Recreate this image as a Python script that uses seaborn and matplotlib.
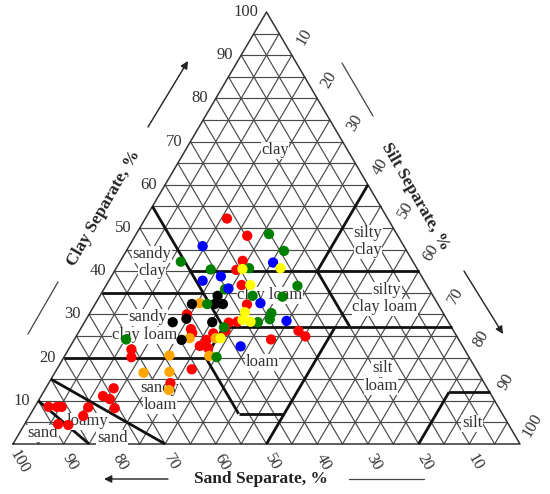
import numpy as np
import pandas as pd
import matplotlib
matplotlib.use("Agg")
import matplotlib.pyplot as plt
import seaborn as sns

# ---------------- data (sand %, clay %) per sample group ----------------
red_sand = [31.7, 29.7, 33.5, 35.8, 36.5, 37.7, 50.7, 43.4, 41.6, 45.0, 51.6, 51.8,
            47.7, 49.8, 51.8, 50.4, 30.6, 29.9, 37.0, 65.7, 66.6, 56.1, 61.9, 73.7,
            76.7, 75.7, 75.8, 80.9, 82.9, 88.7, 87.0, 86.1, 88.8, 86.9]
red_clay = [52.2, 48.2, 42.4, 40.3, 36.8, 32.3, 30.0, 28.1, 28.3, 26.2, 26.6, 25.7,
            25.6, 24.1, 22.7, 22.2, 26.2, 24.9, 24.2, 21.9, 20.1, 17.3, 14.1, 12.9,
            11.1, 10.4, 8.3, 8.5, 6.5, 8.6, 8.6, 8.6, 4.6, 4.4]

green_sand = [25.2, 24.2, 45.8, 40.8, 33.1, 25.6, 40.3, 35.6, 29.8, 45.5, 33.9, 34.9,
              37.6, 44.9, 49.8, 65.6]
green_clay = [48.6, 44.7, 42.2, 40.4, 40.7, 36.6, 35.8, 34.3, 34.1, 32.4, 30.3, 28.9,
              28.2, 27.0, 20.1, 24.2]

blue_sand = [39.7, 27.7, 39.6, 43.7, 39.5, 34.9, 31.8, 43.8]
blue_clay = [45.8, 42.0, 38.8, 37.8, 36.0, 32.6, 28.5, 22.6]

yellow_sand = [26.9, 34.5, 34.8, 39.0, 40.4, 39.0, 46.8]
yellow_clay = [40.7, 40.5, 36.8, 30.5, 28.7, 28.3, 24.5]

black_sand = [42.5, 48.5, 44.0, 42.4, 51.3, 54.4, 46.6, 54.7]
black_clay = [34.3, 32.4, 32.4, 32.4, 29.0, 28.2, 28.2, 24.1]

orange_sand = [46.9, 52.9, 47.8, 51.1, 58.9, 66.0, 60.8, 63.0]
orange_clay = [32.6, 24.5, 24.5, 20.4, 20.5, 16.5, 16.7, 12.5]

groups = ["red", "orange", "black", "green", "blue", "yellow"]
palette = {"red": "#ff0000", "orange": "#ffa500", "black": "#000000",
           "green": "#008000", "blue": "#0000ff", "yellow": "#ffff00"}

tick_values = [10, 20, 30, 40, 50, 60, 70, 80, 90, 100]

# texture class boundaries, endpoints as (sand, clay)
boundaries = [
    ((45, 40), (0, 40)), ((45, 55), (45, 27)), ((20, 40), (0, 60)),
    ((45, 27), (0, 27)), ((20, 40), (20, 27)), ((65, 35), (45, 35)),
    ((80, 20), (52, 20)), ((52, 20), (52, 7)), ((52, 7), (43, 7)),
    ((50, 0), (23, 27)), ((45, 27), (52, 20)), ((70, 0), (85, 15)),
    ((85, 0), (90, 10)), ((20, 0), (8, 12)), ((8, 12), (0, 12)),
]

# ---------------- helpers ----------------
H = np.sqrt(3) / 2


def tern(sand, clay):
    sand = np.asarray(sand, float)
    clay = np.asarray(clay, float)
    return 100 - sand - clay / 2, clay * H


SX, SY = 5.07, 4.988          # px per data unit
X0, Y0 = 13, 444               # pixel position of the 100 % sand corner


def P(px, py):
    """figure pixel (from top-left) -> data coords (layout only)"""
    return (px - X0) / SX, (Y0 - py) / SY


# ---------------- figure ----------------
sns.set_style("white")
plt.rcParams["font.family"] = ["Liberation Serif", "DejaVu Serif"]

fig = plt.figure(figsize=(5.5, 4.94), dpi=100)
ax = fig.add_axes([0, 0, 1, 1])
ax.set_xlim(-X0 / SX, (550 - X0) / SX)
ax.set_ylim(-(494 - Y0) / SY, Y0 / SY)
ax.axis("off")

# grid every 5 %
gcol = "#4a4a4a"
for v in range(5, 100, 5):
    # constant clay
    x, y = tern([100 - v, 0], [v, v])
    ax.plot(x, y, color=gcol, lw=0.85, zorder=1)
    # constant sand
    x, y = tern([v, v], [0, 100 - v])
    ax.plot(x, y, color=gcol, lw=0.85, zorder=1)
    # constant silt
    x, y = tern([100 - v, 0], [0, 100 - v])
    ax.plot(x, y, color=gcol, lw=0.85, zorder=1)

# outline
x, y = tern([100, 0, 0, 100], [0, 0, 100, 0])
ax.plot(x, y, color="#333333", lw=1.1, zorder=2)

# boundaries
for (s1, c1), (s2, c2) in boundaries:
    x, y = tern([s1, s2], [c1, c2])
    ax.plot(x, y, color="#111111", lw=2.0, zorder=3, solid_capstyle="butt")

# tick labels
fs = 12
for v in tick_values:
    # clay (left)
    x, y = tern(100 - v, v)
    ax.text(x - 8 / SX, y, str(v), ha="right", va="center", fontsize=fs, color="#333333")
    # silt (right)
    x, y = tern(0, 100 - v)
    ax.text(x + 12 / SX, y + 18.5 / SY, str(v), ha="center", va="center",
            rotation=60, fontsize=fs, color="#333333", rotation_mode="anchor")
    # sand (bottom)
    x, y = tern(v, 0)
    ax.text(x + 6 / SX, y - 18 / SY, str(v), ha="center", va="center",
            rotation=-60, fontsize=fs, color="#333333", rotation_mode="anchor")

# class labels
box = dict(facecolor="white", edgecolor="none", pad=0.4)
class_labels = [
    ("clay", 275, 150), ("sandy", 152, 254), ("clay", 152, 271),
    ("silty", 368, 233), ("clay", 368, 250),
    ("silty", 387, 290), ("clay loam", 385, 307),
    ("clay loam", 270, 295),
    ("sandy", 148, 317), ("clay loam", 145, 335),
    ("loam", 262, 362),
    ("silt", 382, 368), ("loam", 381, 386),
    ("sandy", 160, 388), ("loam", 160, 405),
    ("loamy", 88, 421), ("sand", 112, 438),
    ("sand", 43, 433), ("silt", 472, 423),
]
for txt, px, py in class_labels:
    x, y = P(px, py)
    ax.text(x, y, txt, ha="center", va="center", fontsize=12, color="#333333",
            bbox=box, zorder=4)

# axis titles
tfs = 12.5
x, y = P(104, 208)
ax.text(x, y, "Clay Separate, %", rotation=60, ha="center", va="center",
        fontsize=tfs, fontweight="bold", color="#222222", rotation_mode="anchor")
x, y = P(415, 197)
ax.text(x, y, "Silt Separate, %", rotation=-60, ha="center", va="center",
        fontsize=tfs, fontweight="bold", color="#222222", rotation_mode="anchor")
x, y = P(261, 479)
ax.text(x, y, "Sand Separate, %", ha="center", va="center",
        fontsize=tfs, fontweight="bold", color="#222222")

# arrows and plain lines
aprops = dict(arrowstyle="-|>", color="#222222", lw=1.0, mutation_scale=11,
              shrinkA=0, shrinkB=0)
ax.annotate("", xy=P(188, 61), xytext=P(148, 127), arrowprops=aprops)
ax.annotate("", xy=P(503, 334), xytext=P(464, 271), arrowprops=aprops)
ax.annotate("", xy=P(104, 479), xytext=P(168, 479), arrowprops=aprops)
for (a, b), (c, d) in [((58, 282), (28, 334)), ((342, 63), (373, 116)),
                       ((349, 479), (424, 479))]:
    x1, y1 = P(a, b)
    x2, y2 = P(c, d)
    ax.plot([x1, x2], [y1, y2], color="#444444", lw=0.9)

# sample points
frames = []
for g, s, c in [("red", red_sand, red_clay), ("orange", orange_sand, orange_clay),
                ("black", black_sand, black_clay), ("green", green_sand, green_clay),
                ("blue", blue_sand, blue_clay), ("yellow", yellow_sand, yellow_clay)]:
    x, y = tern(s, c)
    frames.append(pd.DataFrame({"x": x, "y": y, "group": g}))
df = pd.concat(frames, ignore_index=True)
sns.scatterplot(data=df, x="x", y="y", hue="group", hue_order=groups,
                palette=palette, s=55, linewidth=0, legend=False, ax=ax, zorder=5)
ax.set_xlim(-X0 / SX, (550 - X0) / SX)
ax.set_ylim(-(494 - Y0) / SY, Y0 / SY)
ax.axis("off")

fig.savefig("out.png", dpi=100)
